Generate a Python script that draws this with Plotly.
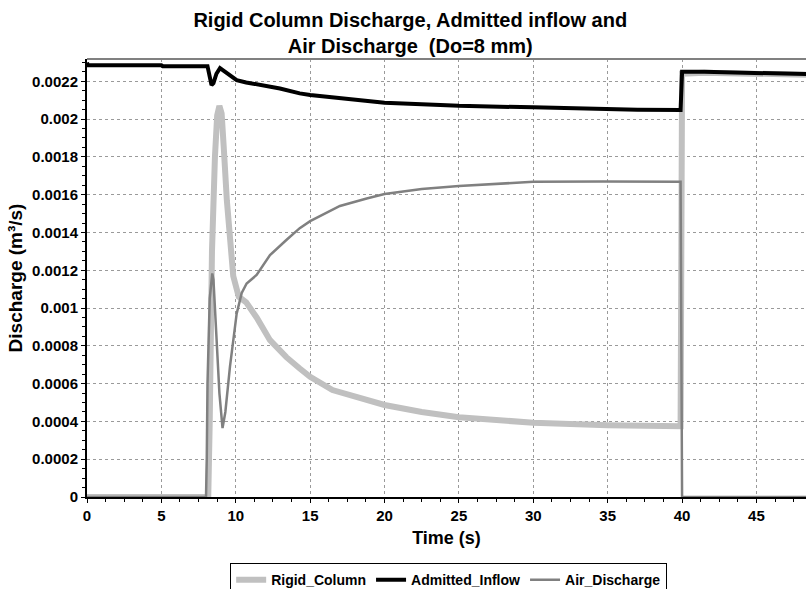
import plotly.graph_objects as go

# ---- data ----
rigid_t = [0, 8.15, 8.25, 8.4, 8.6, 8.75, 8.9, 9.05, 9.2, 9.4, 9.83, 10.2, 10.7, 11.4, 12.3,
           13.4, 14.3, 15, 16.5, 20, 22.5, 25, 30, 32.5, 35, 39.9, 40.0, 41.5, 47, 48.4]
rigid_q = [0, 0, 0.0004, 0.0013, 0.0018, 0.00202, 0.00207, 0.00203, 0.00184, 0.00157, 0.00117,
           0.00106, 0.00103, 0.00095, 0.00083, 0.00074, 0.00068, 0.000636, 0.000566, 0.000487,
           0.00045, 0.000422, 0.000393, 0.000386, 0.00038, 0.000375, 0.00224, 0.002245,
           0.00224, 0.002235]

inflow_t = [0, 0.05, 5.0, 5.1, 8.1, 8.2, 8.37, 8.5, 8.7, 8.94, 9.2, 9.6, 10.06, 10.7, 12.97,
            14.3, 15, 20, 25, 30, 32.5, 35, 37, 39.9, 40.0, 41.5, 47, 48.4]
inflow_q = [0.0023, 0.002285, 0.002285, 0.00228, 0.00228, 0.00224, 0.00218, 0.00219, 0.00224,
            0.00227, 0.002255, 0.00223, 0.002206, 0.002194, 0.002162, 0.002136, 0.002127,
            0.002087, 0.00207, 0.002062, 0.002057, 0.002057, 0.00205, 0.002048, 0.00225,
            0.00225, 0.00224, 0.002238]

air_t = [0, 8.0, 8.05, 8.1, 8.25, 8.42, 8.5, 8.71, 8.9, 9.11, 9.3, 9.61, 10.06, 10.4, 10.73,
         11.4, 12.3, 13.4, 14.3, 15, 17, 18.8, 20, 22.5, 25, 30, 34.7, 39.9, 40.0, 48.4]
air_q = [0, 0, 0.0002, 0.0006, 0.00105, 0.001183, 0.00115, 0.00083, 0.00055, 0.000365, 0.00045,
         0.00069, 0.00097, 0.00108, 0.00113, 0.001175, 0.00128, 0.00136, 0.001423, 0.00146,
         0.00154, 0.00158, 0.001603, 0.00163, 0.001646, 0.001668, 0.00167, 0.001668, 0, 0]

x_tickvals = [0, 5, 10, 15, 20, 25, 30, 35, 40, 45]
x_ticktext = ["0", "5", "10", "15", "20", "25", "30", "35", "40", "45"]
y_tickvals = [0, 0.0002, 0.0004, 0.0006, 0.0008, 0.001, 0.0012, 0.0014, 0.0016, 0.0018, 0.002, 0.0022]
y_ticktext = ["0", "0.0002", "0.0004", "0.0006", "0.0008", "0.001", "0.0012", "0.0014",
              "0.0016", "0.0018", "0.002", "0.0022"]

FONT = "Liberation Sans, Arial, sans-serif"

fig = go.Figure()
fig.add_trace(go.Scatter(x=rigid_t, y=rigid_q, mode="lines", name="Rigid_Column",
                         line=dict(color="#c0c0c0", width=6)))
fig.add_trace(go.Scatter(x=inflow_t, y=inflow_q, mode="lines", name="Admitted_Inflow",
                         line=dict(color="#000000", width=4)))
fig.add_trace(go.Scatter(x=air_t, y=air_q, mode="lines", name="Air_Discharge",
                         line=dict(color="#808080", width=2.5)))

fig.update_layout(
    width=806, height=589,
    margin=dict(l=87, r=0, t=59, b=92, autoexpand=False),
    paper_bgcolor="white", plot_bgcolor="white",
    font=dict(family=FONT, color="black", size=15, weight="bold"),
    title=dict(text="Rigid Column Discharge, Admitted inflow and<br>Air Discharge  (Do=8 mm)",
               x=0.509, xanchor="center", xref="container",
               y=0.955, yanchor="top", yref="container",
               font=dict(family=FONT, size=20, color="black", weight="bold")),
    showlegend=True,
    legend=dict(orientation="h", x=0.503, xanchor="center", y=-0.151, yanchor="top",
                bordercolor="black", borderwidth=1, bgcolor="white",
                font=dict(family=FONT, size=14, color="black", weight="bold"),
                itemwidth=30, tracegroupgap=0),
)

fig.update_xaxes(
    range=[0, 48.33], showline=True, linecolor="black", linewidth=2,
    tickmode="array", tickvals=x_tickvals, ticktext=x_ticktext,
    ticks="outside", ticklen=4, tickcolor="black",
    showgrid=True, gridcolor="#9a9a9a", griddash="3px,3px", gridwidth=1,
    minor=dict(dtick=1.25, ticks="outside", ticklen=3, tickcolor="black", showgrid=False),
    zeroline=False,
    title=dict(text="Time (s)", font=dict(family=FONT, size=18, weight="bold"), standoff=8),
    tickfont=dict(family=FONT, size=15, weight="bold"),
)
fig.update_yaxes(
    range=[0, 0.002318], showline=True, linecolor="black", linewidth=2,
    tickmode="array", tickvals=y_tickvals, ticktext=y_ticktext,
    ticks="outside", ticklen=4, tickcolor="black",
    showgrid=True, gridcolor="#9a9a9a", griddash="3px,3px", gridwidth=1,
    minor=dict(dtick=0.00005, ticks="outside", ticklen=3, tickcolor="black", showgrid=False),
    zeroline=False,
    title=dict(text="Discharge (m³/s)", font=dict(family=FONT, size=19, weight="bold"), standoff=4),
    tickfont=dict(family=FONT, size=15, weight="bold"),
)

# top frame line
fig.add_shape(type="line", xref="paper", yref="paper", x0=0, x1=1, y0=1, y1=1,
              line=dict(color="#808080", width=2))

fig.write_html("out.html")
